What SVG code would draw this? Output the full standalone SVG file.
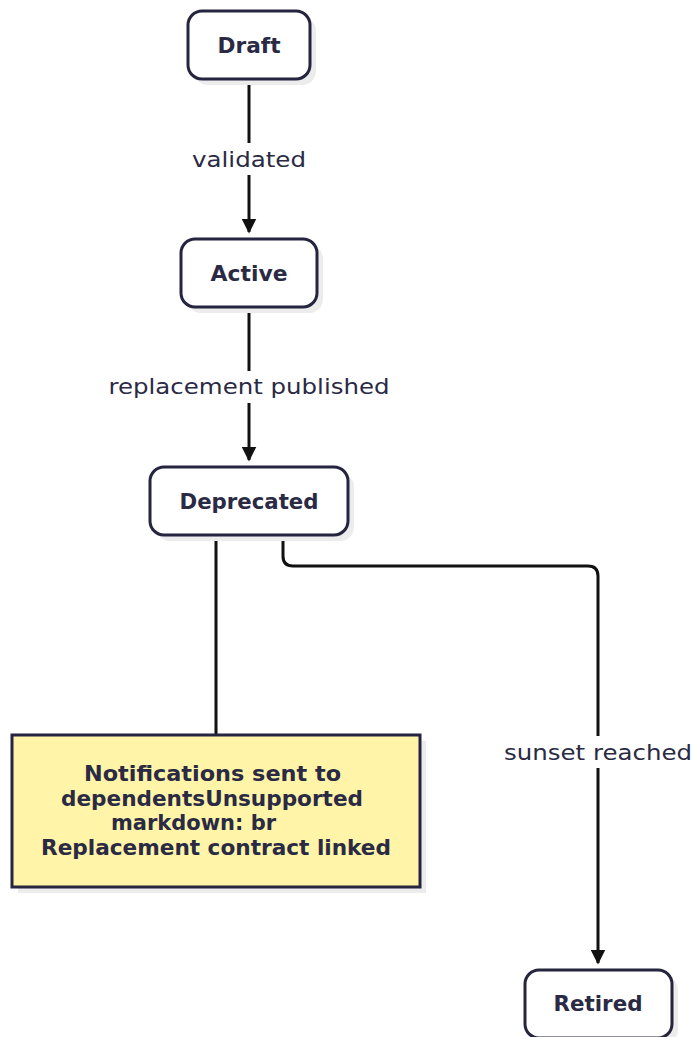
<svg xmlns="http://www.w3.org/2000/svg" width="694" height="1037" viewBox="0 0 694 1037">
  <defs>
    <marker id="arrow" viewBox="0 0 10 10" refX="9" refY="5" markerWidth="5" markerHeight="5" orient="auto">
      <path d="M0,0 L10,5 L0,10 z" fill="#111"/>
    </marker>
    <style>
      .state { fill: #ffffff; stroke: #25253f; stroke-width: 3; }
      .shadow { fill: #ececec; }
      .note { fill: #fff4a8; stroke: #25253f; stroke-width: 3; }
      .name { font-family: "DejaVu Sans", "Noto Sans", sans-serif; font-weight: bold; font-size: 22px; fill: #2a2a44; text-anchor: middle; }
      .noteText { font-family: "DejaVu Sans", "Noto Sans", sans-serif; font-weight: bold; font-size: 21px; fill: #2a2a44; text-anchor: middle; }
      .label { font-family: "DejaVu Sans", "Noto Sans", sans-serif; font-size: 22px; fill: #2a2a44; text-anchor: middle; }
      .edge { fill: none; stroke: #111; stroke-width: 3; }
    </style>
  </defs>
  <rect width="694" height="1037" fill="#ffffff"/>

  <g id="connectors">
    <line class="edge" x1="249" y1="80" x2="249" y2="232" marker-end="url(#arrow)"/>
    <line class="edge" x1="249" y1="308" x2="249" y2="460" marker-end="url(#arrow)"/>
    <line class="edge" x1="216" y1="536" x2="216" y2="735"/>
    <path class="edge" d="M283,536 V556 Q283,566 293,566 H588 Q598,566 598,576 V963" marker-end="url(#arrow)"/>
    <rect x="188" y="143" width="122" height="32" fill="#fff"/>
    <text class="label" x="249" y="166.5" textLength="114" lengthAdjust="spacingAndGlyphs">validated</text>
    <rect x="105" y="371" width="288" height="32" fill="#fff"/>
    <text class="label" x="249" y="394" textLength="281" lengthAdjust="spacingAndGlyphs">replacement published</text>
    <rect x="501" y="736" width="193" height="32" fill="#fff"/>
    <text class="label" x="598" y="759.5" textLength="188" lengthAdjust="spacingAndGlyphs">sunset reached</text>
  </g>

  <g id="draft">
    <rect class="shadow" x="194" y="17" width="122" height="68" rx="14"/>
    <rect class="state" x="188" y="11" width="122" height="68" rx="14"/>
    <text class="name" x="249" y="53" textLength="63" lengthAdjust="spacingAndGlyphs">Draft</text>
  </g>

  <g id="active">
    <rect class="shadow" x="187" y="245" width="136" height="68" rx="14"/>
    <rect class="state" x="181" y="239" width="136" height="68" rx="14"/>
    <text class="name" x="249" y="281" textLength="77" lengthAdjust="spacingAndGlyphs">Active</text>
  </g>

  <g id="deprecated">
    <rect class="shadow" x="156" y="473" width="198" height="68" rx="14"/>
    <rect class="state" x="150" y="467" width="198" height="68" rx="14"/>
    <text class="name" x="249" y="509" textLength="139" lengthAdjust="spacingAndGlyphs">Deprecated</text>
  </g>

  <g id="note">
    <rect class="shadow" x="18" y="741" width="408" height="152"/>
    <rect class="note" x="12" y="735" width="408" height="152"/>
    <text class="noteText" x="212.5" y="781" textLength="257" lengthAdjust="spacingAndGlyphs">Notifications sent to</text>
    <text class="noteText" x="212" y="805.5" textLength="302" lengthAdjust="spacingAndGlyphs">dependentsUnsupported</text>
    <text class="noteText" x="193.5" y="830" textLength="165" lengthAdjust="spacingAndGlyphs">markdown: br</text>
    <text class="noteText" x="216" y="854.5" textLength="350" lengthAdjust="spacingAndGlyphs">Replacement contract linked</text>
  </g>

  <g id="retired">
    <rect class="shadow" x="531" y="976" width="147" height="68" rx="14"/>
    <rect class="state" x="525" y="970" width="147" height="68" rx="14"/>
    <text class="name" x="598" y="1011" textLength="89" lengthAdjust="spacingAndGlyphs">Retired</text>
  </g>
</svg>
